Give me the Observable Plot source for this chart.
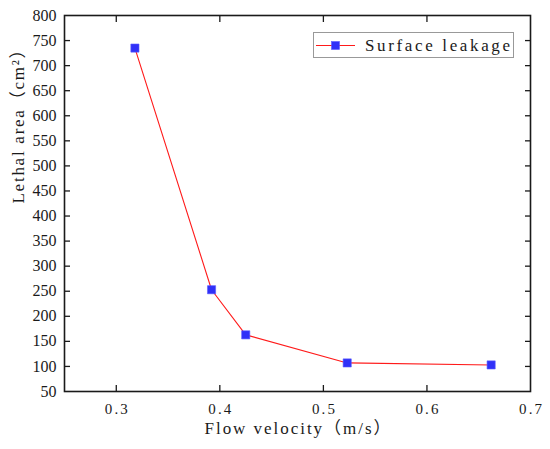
<!DOCTYPE html>
<html>
<head>
<meta charset="utf-8">
<script src="https://cdn.jsdelivr.net/npm/d3@7"></script>
<script src="https://cdn.jsdelivr.net/npm/@observablehq/plot@0.6"></script>
<style>
  html, body { margin: 0; padding: 0; background: #fff; }
  #chart { width: 550px; height: 449px; }
  #chart svg text { font-family: "Liberation Serif", "Noto Sans CJK SC", serif; }
</style>
</head>
<body>
<div id="chart"></div>
<script>
// Data
const velocity = [0.318, 0.392, 0.425, 0.523, 0.662];      // Flow velocity (m/s)
const lethalArea = [735, 253, 163, 107, 103];               // Lethal area (cm²)
const seriesName = "Surface leakage";
const xTicks = [0.3, 0.4, 0.5, 0.6, 0.7];
const yTicks = [50, 100, 150, 200, 250, 300, 350, 400, 450, 500, 550, 600, 650, 700, 750, 800];
const xLabel = "Flow velocity（m/s）";
const yLabel = "Lethal area（cm²）";

const data = velocity.map((v, i) => ({x: v, y: lethalArea[i]}));

const font = "Liberation Serif";
const ink = "#1a1a1a";
const lineColor = "#ff1a1a";
const markColor = "#3030f8";

const chart = Plot.plot({
  width: 550,
  height: 449,
  marginLeft: 64,
  marginRight: 20,
  marginTop: 15,
  marginBottom: 58,
  style: {fontFamily: font, fontSize: "15px", background: "#fff", color: ink},
  x: {domain: [0.25, 0.7], label: null},
  y: {domain: [50, 800], label: null},
  marks: [
    Plot.line(data, {x: "x", y: "y", stroke: lineColor, strokeWidth: 1.1}),
    Plot.dot(data, {x: "x", y: "y", symbol: "square", r: 4.6, fill: markColor, stroke: "#5a5aff", strokeWidth: 0.6}),
    // inward ticks on all four sides
    Plot.axisX(xTicks.slice(0, -1), {anchor: "bottom", tickSize: -6, fill: "none", label: null, stroke: ink, strokeWidth: 1.3}),
    Plot.axisX(xTicks.slice(0, -1), {anchor: "top", tickSize: -6, fill: "none", label: null, stroke: ink, strokeWidth: 1.3}),
    Plot.axisY(yTicks.slice(1, -1), {anchor: "left", tickSize: -6, fill: "none", label: null, stroke: ink, strokeWidth: 1.3}),
    Plot.axisY(yTicks.slice(1, -1), {anchor: "right", tickSize: -6, fill: "none", label: null, stroke: ink, strokeWidth: 1.3}),
    // tick labels
    Plot.axisX(xTicks, {anchor: "bottom", tickSize: 0, tickPadding: 12, label: null, tickFormat: d => d.toFixed(1), fontSize: 15, fill: ink}),
    Plot.axisY(yTicks, {anchor: "left", tickSize: 0, tickPadding: 8, label: null, tickFormat: d => String(d), fontSize: 16, fill: ink}),
    // axis titles
    Plot.text([xLabel], {frameAnchor: "bottom", dy: 37, text: d => d, fontSize: 17, fill: ink, lineAnchor: "middle"}),
    Plot.text([yLabel], {frameAnchor: "left", dx: -46, rotate: -90, text: d => d, fontSize: 17, fill: ink, lineAnchor: "middle"}),
    Plot.frame({stroke: ink, strokeWidth: 1.6})
  ]
});

document.getElementById("chart").appendChild(chart);

const svg = d3.select(chart);
// mimic the wide, evenly spaced lettering of the original
const stretch = (content, len) => svg.selectAll("text")
  .filter(function() { return this.textContent === content; })
  .attr("textLength", len).attr("lengthAdjust", "spacing");
stretch(xLabel, 186);
stretch(yLabel, 162);
xTicks.forEach(t => stretch(t.toFixed(1), 23));

// Legend inside the plot area (top-right)
const lg = svg.append("g").attr("transform", "translate(313,32)");
lg.append("rect").attr("x", 0.5).attr("y", 0.5).attr("width", 200).attr("height", 25)
  .attr("fill", "#fff").attr("stroke", "#999").attr("stroke-width", 1);
lg.append("line").attr("x1", 3).attr("x2", 42).attr("y1", 13.5).attr("y2", 13.5)
  .attr("stroke", lineColor).attr("stroke-width", 1.1);
lg.append("rect").attr("x", 18.5).attr("y", 9.5).attr("width", 8).attr("height", 8)
  .attr("fill", markColor).attr("stroke", "#5a5aff").attr("stroke-width", 0.6);
lg.append("text").attr("x", 52).attr("y", 13.5).attr("dy", "0.35em")
  .attr("text-anchor", "start").attr("font-size", 17).attr("fill", ink)
  .attr("textLength", 145).attr("lengthAdjust", "spacing").text(seriesName);
</script>
</body>
</html>
